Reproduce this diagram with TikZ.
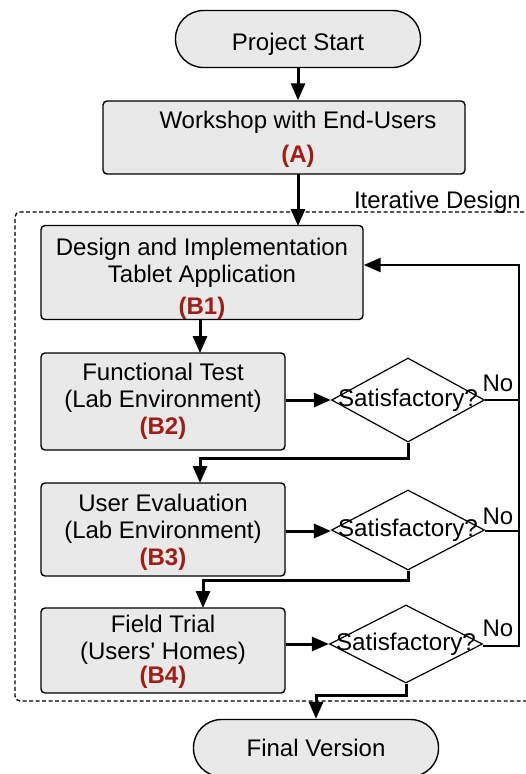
\documentclass[tikz,border=0pt]{standalone}
\usepackage{fontspec}
\setmainfont{Liberation Sans}
\usetikzlibrary{shapes.geometric,arrows.meta}
\definecolor{boxfill}{HTML}{E9E9E9}
\definecolor{lblred}{HTML}{A01E16}
\begin{document}
\begin{tikzpicture}[x=1pt,y=-1pt,
  every node/.style={font=\fontsize{24}{27}\selectfont},
  term/.style={draw,line width=1.4pt,fill=boxfill,rounded corners=28pt,minimum width=245pt,minimum height=57pt,inner sep=0pt},
  procbox/.style={draw,line width=1.4pt,fill=boxfill,rounded corners=4pt,inner sep=0pt,align=center},
  decide/.style={draw,line width=1.2pt,diamond,aspect=1.8,inner sep=0pt,minimum width=153pt,minimum height=82pt,font=\fontsize{24.2}{28}\selectfont},
  flow/.style={line width=3pt,-{Triangle[length=17pt,width=14pt]}},
  link/.style={line width=2.6pt},
  plain/.style={inner sep=0pt}]
\useasboundingbox (0,0) rectangle (525,774);
% dashed frame
\draw[line width=1.3pt,dash pattern=on 4pt off 2.5pt,rounded corners=5pt] (524,212) -- (15,212) -- (15,701) -- (535,701);
\node[plain,anchor=base east] (itd) at (521,208) {Iterative Design};
% terminals
\node[term,text height=24pt,text depth=2pt] (start) at (298,39) {Project Start};
\node[term] (final) at (316,748) {Final Version};
% A
\node[procbox,minimum width=362pt,minimum height=73pt] (A) at (284,137.5) {};
\node[plain,align=center] (Atext) at (298,139) {Workshop with End-Users\\[7pt]\textcolor{lblred}{\bfseries (A)}};
% B boxes
\node[procbox,minimum width=322pt,minimum height=93pt] (B1) at (202,272.5)
  {\rule{0pt}{30pt}Design and Implementation\\Tablet Application\\[5pt]\textcolor{lblred}{\bfseries (B1)}};
\node[procbox,minimum width=244pt,minimum height=97pt] (B2) at (163,401.5)
  {Functional Test\\(Lab Environment)\\\textcolor{lblred}{\bfseries (B2)}};
\node[procbox,minimum width=244pt,minimum height=93pt] (B3) at (163,529.5)
  {\rule{0pt}{23pt}User Evaluation\\(Lab Environment)\\\textcolor{lblred}{\bfseries (B3)}};
\node[procbox,minimum width=244pt,minimum height=85pt] (B4) at (163,650.5)
  {\rule{0pt}{19pt}Field Trial\\(Users\textquotesingle\ Homes)\\[-3pt]\textcolor{lblred}{\bfseries (B4)}};
% decisions
\node[decide,minimum height=84pt] (D1) at (408,400) {\makebox[0pt]{Satisfactory?}};
\node[decide,minimum height=80pt] (D2) at (408,530) {\makebox[0pt]{Satisfactory?}};
\node[decide,minimum height=78pt] (D3) at (406,644) {\makebox[0pt]{Satisfactory?}};
% No labels
\node[plain] (no1) at (498,383) {No};
\node[plain] (no2) at (498,516) {No};
\node[plain] (no3) at (498,628) {No};
% coordinates
\coordinate (r1) at (519,400);
\coordinate (r2) at (519,531);
\coordinate (r3) at (519,646);
\coordinate (rt) at (519,265);
\coordinate (j1) at (200,458);
\coordinate (j2) at (203,580);
\coordinate (j3) at (316,695);
% main flow
\draw[flow] (start.south) -- (start.south |- A.north);
\draw[flow] (298,174) -- (298,226);
\draw[flow] (B1.south -| 200,0) -- (200,353);
\draw[flow] (B2.east |- D1.west) -- (D1.west);
\draw[flow] (B3.east |- 0,531) -- (D2.west |- 0,531);
\draw[flow] (B4.east |- 0,644) -- (D3.west);
\draw[flow] (D1.south) -- (D1.south |- j1) -- (j1) -- (200,483);
\draw[flow] (D2.south) -- (D2.south |- j2) -- (j2) -- (203,608);
\draw[flow] (D3.south) -- (D3.south |- j3) -- (j3) -- (final.north);
% feedback
\draw[link] (D1.east) -- (r1);
\draw[link] (D2.east |- r2) -- (r2);
\draw[link] (D3.east |- r3) -- (r3);
\draw[link,-{Triangle[length=17pt,width=14pt]},line cap=rect] (r3) -- (rt) -- (B1.east |- rt);
\end{tikzpicture}
\end{document}
